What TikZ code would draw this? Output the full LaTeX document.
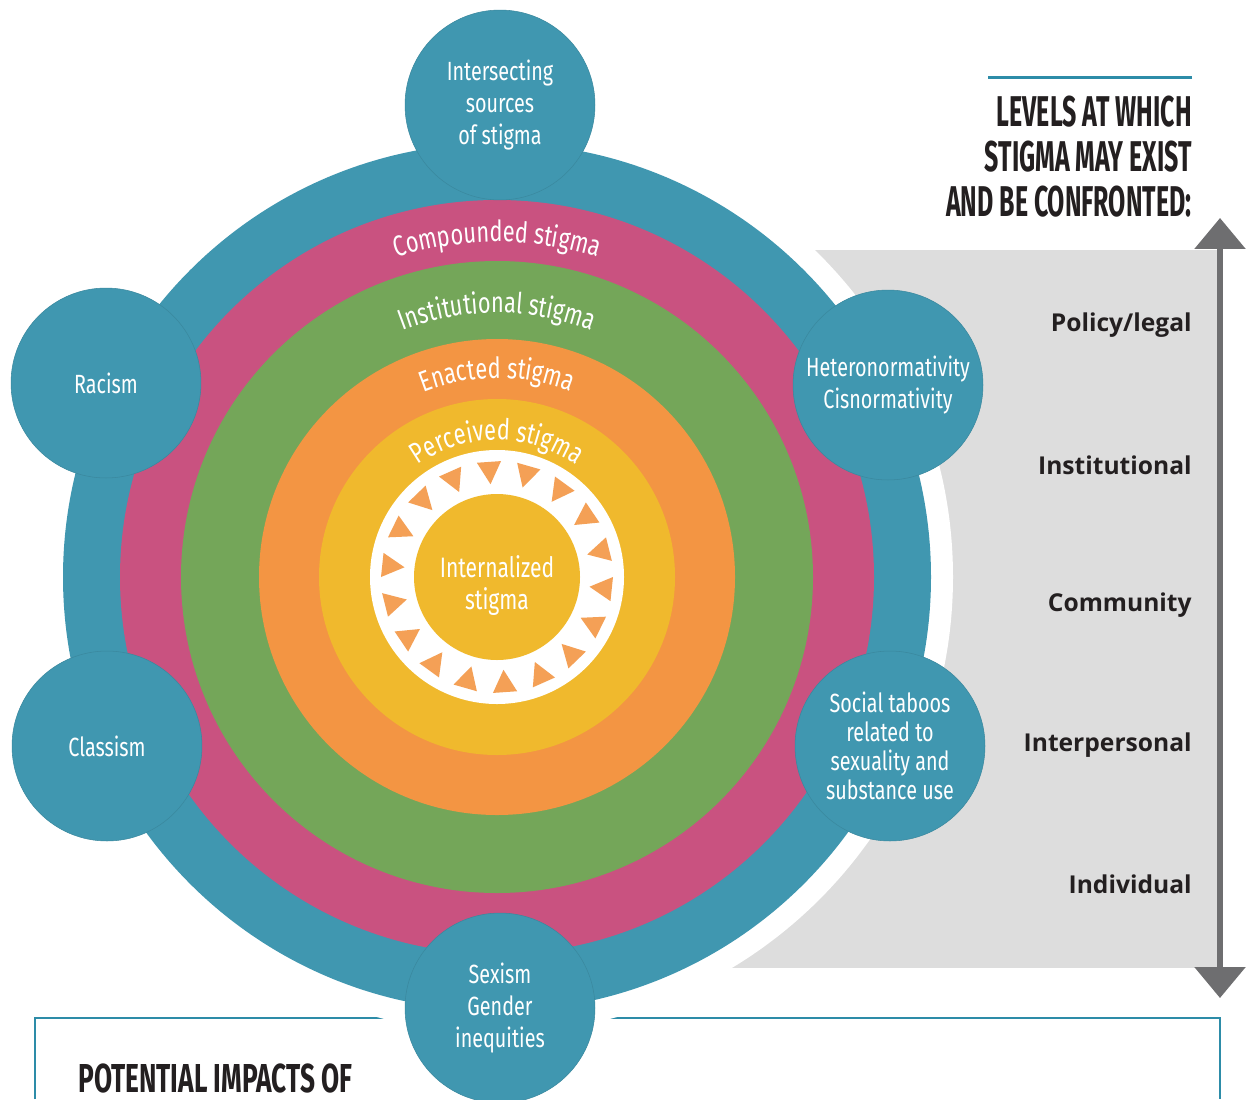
\documentclass[tikz,border=0pt]{standalone}
\usepackage{fontspec}
\setmainfont{Fira Sans}
\newfontfamily\condfont[FakeStretch=0.75]{Fira Sans}
\newfontfamily\headfont[FakeStretch=0.58]{Fira Sans}
\newfontfamily\impactfont[FakeStretch=0.65]{Fira Sans}
\newfontfamily\levelfont{Open Sans}
\usepackage{tikz}
\usetikzlibrary{arrows.meta}
\usetikzlibrary{calc,positioning}
\usetikzlibrary{decorations.text}

\definecolor{ringblue}{RGB}{64,151,176}
\definecolor{ringpink}{RGB}{201,82,128}
\definecolor{ringgreen}{RGB}{116,166,89}
\definecolor{ringorange}{RGB}{243,149,67}
\definecolor{ringyellow}{RGB}{240,185,45}
\definecolor{panelgray}{RGB}{221,221,221}
\definecolor{arrowgray}{RGB}{110,110,112}
\definecolor{inkdark}{RGB}{35,31,32}
\definecolor{ruleteal}{RGB}{45,140,168}

\begin{document}
\begin{tikzpicture}[x=0.02cm, y=0.02cm,
    cause/.style={circle, fill=ringblue, draw=ringblue!90!black, line width=0.3pt, minimum size=3.8cm, inner sep=0pt,
    align=center, text=white, font=\condfont\fontsize{15}{18.2}\selectfont},
    level/.style={anchor=east, inner sep=0pt, text=inkdark, font=\levelfont\bfseries\fontsize{14}{16}\selectfont},
    heading/.style={inner sep=0pt, text=inkdark, font=\headfont\bfseries\fontsize{24.5}{25.6}\selectfont},
    ringtext/.style={decorate, decoration={text along path, text align=center,
    text={|\color{white}\condfont\fontsize{16.5}{18}\selectfont|#1}}},
    tri/.style={fill=ringorange!90!white}]
    \useasboundingbox (0,0) rectangle (1247,-1099);
    \coordinate (ctr) at (497,-577);

    \fill[panelgray] (700,-250) rectangle (1220,-968);
    \draw[ruleteal, line width=0.05cm] (35,-1099) -- (35,-1018) -- (1220,-1018) -- (1220,-1099);
    \fill[white] (ctr) circle (456);

    % rings
    \fill[ringblue] (ctr) circle (434);
    \fill[ringpink] (ctr) circle (377);
    \fill[ringgreen] (ctr) circle (316);
    \fill[ringorange] (ctr) circle (238);
    \fill[ringyellow] (ctr) circle (178);
    \fill[white] (ctr) circle (127);
    \fill[ringyellow] (ctr) circle (83);
    \foreach \a in {94,74,...,-246}
        \fill[tri] ($(ctr)+(\a:93)$) -- ($(ctr)+(\a+6:116)$) -- ($(ctr)+(\a-6:116)$) -- cycle;

    \path[ringtext={Compounded stigma}] (ctr) ++(150:335) arc[start angle=150, end angle=30, radius=335];
    \path[ringtext={Institutional stigma}] (ctr) ++(150:264) arc[start angle=150, end angle=30, radius=264];
    \path[ringtext={Enacted stigma}] (ctr) ++(150:199) arc[start angle=150, end angle=30, radius=199];
    \path[ringtext={Perceived stigma}] (ctr) ++(160:137) arc[start angle=160, end angle=20, radius=137];

    \node[align=center, inner sep=0pt, text=white, font=\condfont\fontsize{16}{18.2}\selectfont] (internal) at (497,-586) {Internalized\\stigma};

    \node[cause] (sources) at (500,-105) {Intersecting\\sources\\of stigma};
    \node[cause] (racism) at (106,-383) {Racism};
    \node[cause] (classism) at (107,-746) {Classism};
    \node[cause] (sexism) at (500,-1008) {Sexism\\Gender\\inequities};
    \node[cause] (hetero) at (888,-385) {Heteronormativity\\Cisnormativity};
    \node[cause, font=\condfont\fontsize{15}{16.5}\selectfont] (taboos) at (890,-746) {Social taboos\\related to\\sexuality and\\substance use};

    \node[heading, anchor=north east, align=right] (levels) at (1192,-96) {LEVELS AT WHICH\\STIGMA MAY EXIST\\AND BE CONFRONTED:};
    \draw[ruleteal, line width=0.06cm] (1192,-77) -- (988,-77);
    \node[heading, anchor=base west, font=\impactfont\bfseries\fontsize{23}{25}\selectfont] (impacts) at (78,-1092) {POTENTIAL IMPACTS OF};

    \node[level] (policy) at (1192,-325) {Policy/legal};
    \node[level] (institutional) at (1192,-465) {Institutional};
    \node[level] (community) at (1192,-605) {Community};
    \node[level] (interpersonal) at (1192,-745) {Interpersonal};
    \node[level] (individual) at (1192,-884) {Individual};

    \coordinate (arrtop) at (1220,-218);
    \coordinate (arrbot) at (1220,-998);
    \draw[arrowgray, line width=0.12cm, {Triangle[width=1cm,length=0.62cm]}-{Triangle[width=1cm,length=0.62cm]}] (arrbot) -- (arrtop);
\end{tikzpicture}
\end{document}
